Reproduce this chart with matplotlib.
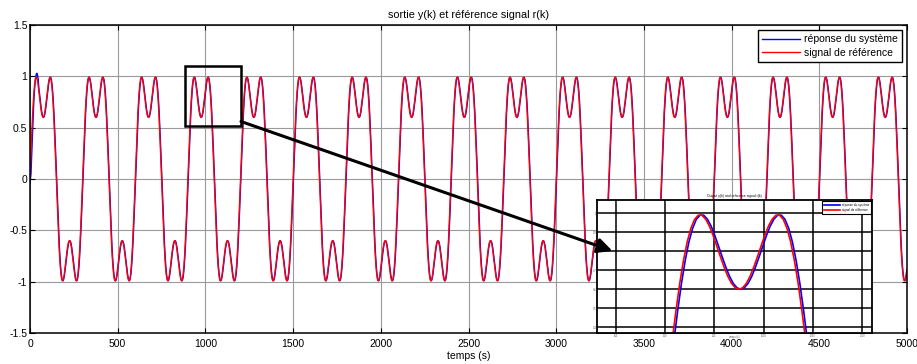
import numpy as np
import matplotlib.pyplot as plt
from matplotlib.patches import Rectangle

plt.rcParams['font.family'] = ['Liberation Sans', 'DejaVu Sans']

# one positive half-period of the reference, sampled every 3.75 s
half_wave = [0.000, 0.172, 0.338, 0.493, 0.633, 0.752, 0.849, 0.921, 0.968, 0.990,
             0.990, 0.969, 0.933, 0.884, 0.828, 0.771, 0.716, 0.668, 0.631, 0.608,
             0.600, 0.608, 0.631, 0.668, 0.716, 0.771, 0.828, 0.884, 0.933, 0.969,
             0.990, 0.990, 0.968, 0.921, 0.849, 0.752, 0.633, 0.493, 0.338, 0.172]
Ts = 3.75
T_end = 5000
N_periods = 17

# start of the system response (transient), then it follows r(k) with a small lag
y_start = [-0.04, 0.05, 0.22, 0.40, 0.57, 0.71, 0.83, 0.92, 0.98, 1.02, 1.03, 1.01, 0.97]
lag = 1.75

# zoom window
box_x = [886, 1203]
box_y = [0.52, 1.10]

period = np.array(half_wave + [-v for v in half_wave])
r = np.tile(period, N_periods)
k = np.arange(len(r)) * Ts
keep = k <= T_end
k, r = k[keep], r[keep]

y = r.copy()
y[:len(y_start)] = y_start
k_y = k + lag
k_y[0] = 0

fig = plt.figure(figsize=(9.17, 3.64), dpi=100)
ax = fig.add_axes([30/917, 31/364, 877/917, 308/364])

ax.plot(k_y, y, color='b', lw=1.0, label='réponse du système')
ax.plot(k, r, color='r', lw=1.0, label='signal de référence')

ax.set_xlim(0, 5000)
ax.set_ylim(-1.5, 1.5)
ax.set_xticks(np.arange(0, 5001, 500))
ax.set_yticks(np.arange(-1.5, 1.51, 0.5))
ax.set_yticklabels(['-1.5', '-1', '-0.5', '0', '0.5', '1', '1.5'])
ax.grid(True, color='#9a9a9a', lw=0.8)
ax.tick_params(direction='in', top=True, right=True, length=3.5, width=0.8,
               labelsize=7.5, pad=2)
ax.tick_params(axis='x', pad=4.5)
for s in ax.spines.values():
    s.set_linewidth(1.1)
ax.set_title('sortie y(k) et référence signal r(k)', fontsize=7.8, pad=5)
ax.set_xlabel('temps (s)', fontsize=7.5, labelpad=1.5)
leg = ax.legend(loc='upper right', fontsize=7.5, fancybox=False, framealpha=1,
                edgecolor='k', handlelength=3.6, borderaxespad=0.5,
                handletextpad=0.4, labelspacing=0.35)
leg.get_frame().set_linewidth(1.0)

ax.add_patch(Rectangle((box_x[0], box_y[0]), box_x[1] - box_x[0], box_y[1] - box_y[0],
                       fill=False, lw=1.8, color='k', zorder=5))

# enlarged view
ins = fig.add_axes([597/917, 31/364, 275/917, 133/364])
ins.plot(k_y, y, color='b', lw=1.2, label='réponse du système')
ins.plot(k, r, color='r', lw=1.2, label='signal de référence')
ins.set_xlim(831, 1110)
ins.set_ylim(0.37, 1.07)
ins.set_xticks(np.arange(850, 1101, 50))
ins.set_yticks(np.arange(0.4, 1.01, 0.1))
ins.set_yticklabels(['0.4', '0.5', '0.6', '0.7', '0.8', '0.9', '1'])
ins.grid(True, color='k', lw=1.1)
ins.tick_params(direction='in', top=True, right=True, length=2, width=0.6,
                labelsize=1.8, pad=0.4, colors='#555555')
for s in ins.spines.values():
    s.set_linewidth(1.3)
ins.set_title('Output y(k) and reference signal r(k)', fontsize=2.4, pad=2)
ins.set_xlabel('temps (s)', fontsize=1.8, color='#555555')
ins.xaxis.set_label_coords(0.5, -0.018)
ileg = ins.legend(loc='upper right', fontsize=2.2, fancybox=False, framealpha=1,
                  edgecolor='k', handlelength=5, borderaxespad=0.3, borderpad=0.6)
ileg.get_frame().set_linewidth(0.8)

# arrow from the zoom window to the enlarged view, drawn over both axes
ins.annotate('', xy=(3320, -0.70), xycoords=ax.transData,
             xytext=(1203, 0.56), textcoords=ax.transData,
             arrowprops=dict(arrowstyle='-|>', lw=2.2, color='k', mutation_scale=22,
                             shrinkA=0, shrinkB=0),
             annotation_clip=False, zorder=10)

fig.savefig('out.png', dpi=100)
